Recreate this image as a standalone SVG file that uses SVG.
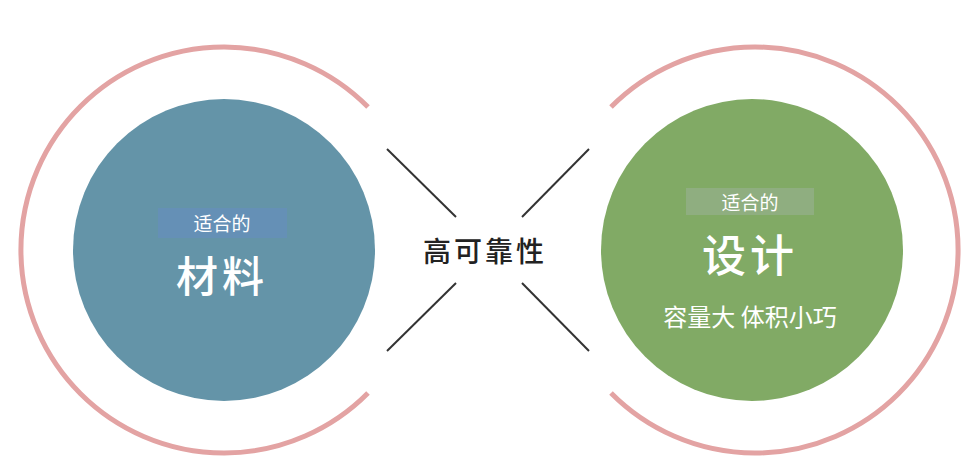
<svg xmlns="http://www.w3.org/2000/svg" width="964" height="473" viewBox="0 0 964 473">
<style>
.ring{fill:none;stroke:#e3a3a3;stroke-width:5}
.ln{stroke:#333;stroke-width:2}
text{font-family:"Noto Sans CJK SC","Noto Sans",sans-serif;text-anchor:middle;fill:#fff}
</style>
<rect width="964" height="473" fill="#fff"/>
<g id="left">
<path class="ring" d="M368 107 A203 203 0 1 0 368 393"/>
<circle cx="224" cy="250" r="151" fill="#6494a8"/>
<rect x="158" y="208" width="129" height="30" fill="#6590b6"/>
<text x="222" y="231" font-size="19">适合的</text>
<text x="222" y="292" font-size="42" font-weight="500" letter-spacing="4">材料</text>
</g>
<g id="right">
<path class="ring" d="M611 107 A203 203 0 1 1 611 393"/>
<circle cx="752" cy="250" r="151" fill="#81aa65"/>
<rect x="686" y="188" width="128" height="27" fill="#8fae80"/>
<text x="750" y="210" font-size="19">适合的</text>
<text x="750" y="272" font-size="44" font-weight="500" letter-spacing="4">设计</text>
<text x="750" y="326" font-size="24">容量大 体积小巧</text>
</g>
<g id="connectors">
<line class="ln" x1="387" y1="149" x2="456" y2="217"/>
<line class="ln" x1="589" y1="149" x2="522" y2="217"/>
<line class="ln" x1="456" y1="283" x2="387" y2="351"/>
<line class="ln" x1="522" y1="283" x2="589" y2="351"/>
</g>
<g id="center">
<text x="485" y="262" font-size="28" font-weight="500" fill="#222" style="fill:#222" letter-spacing="3">高可靠性</text>
</g>
</svg>
